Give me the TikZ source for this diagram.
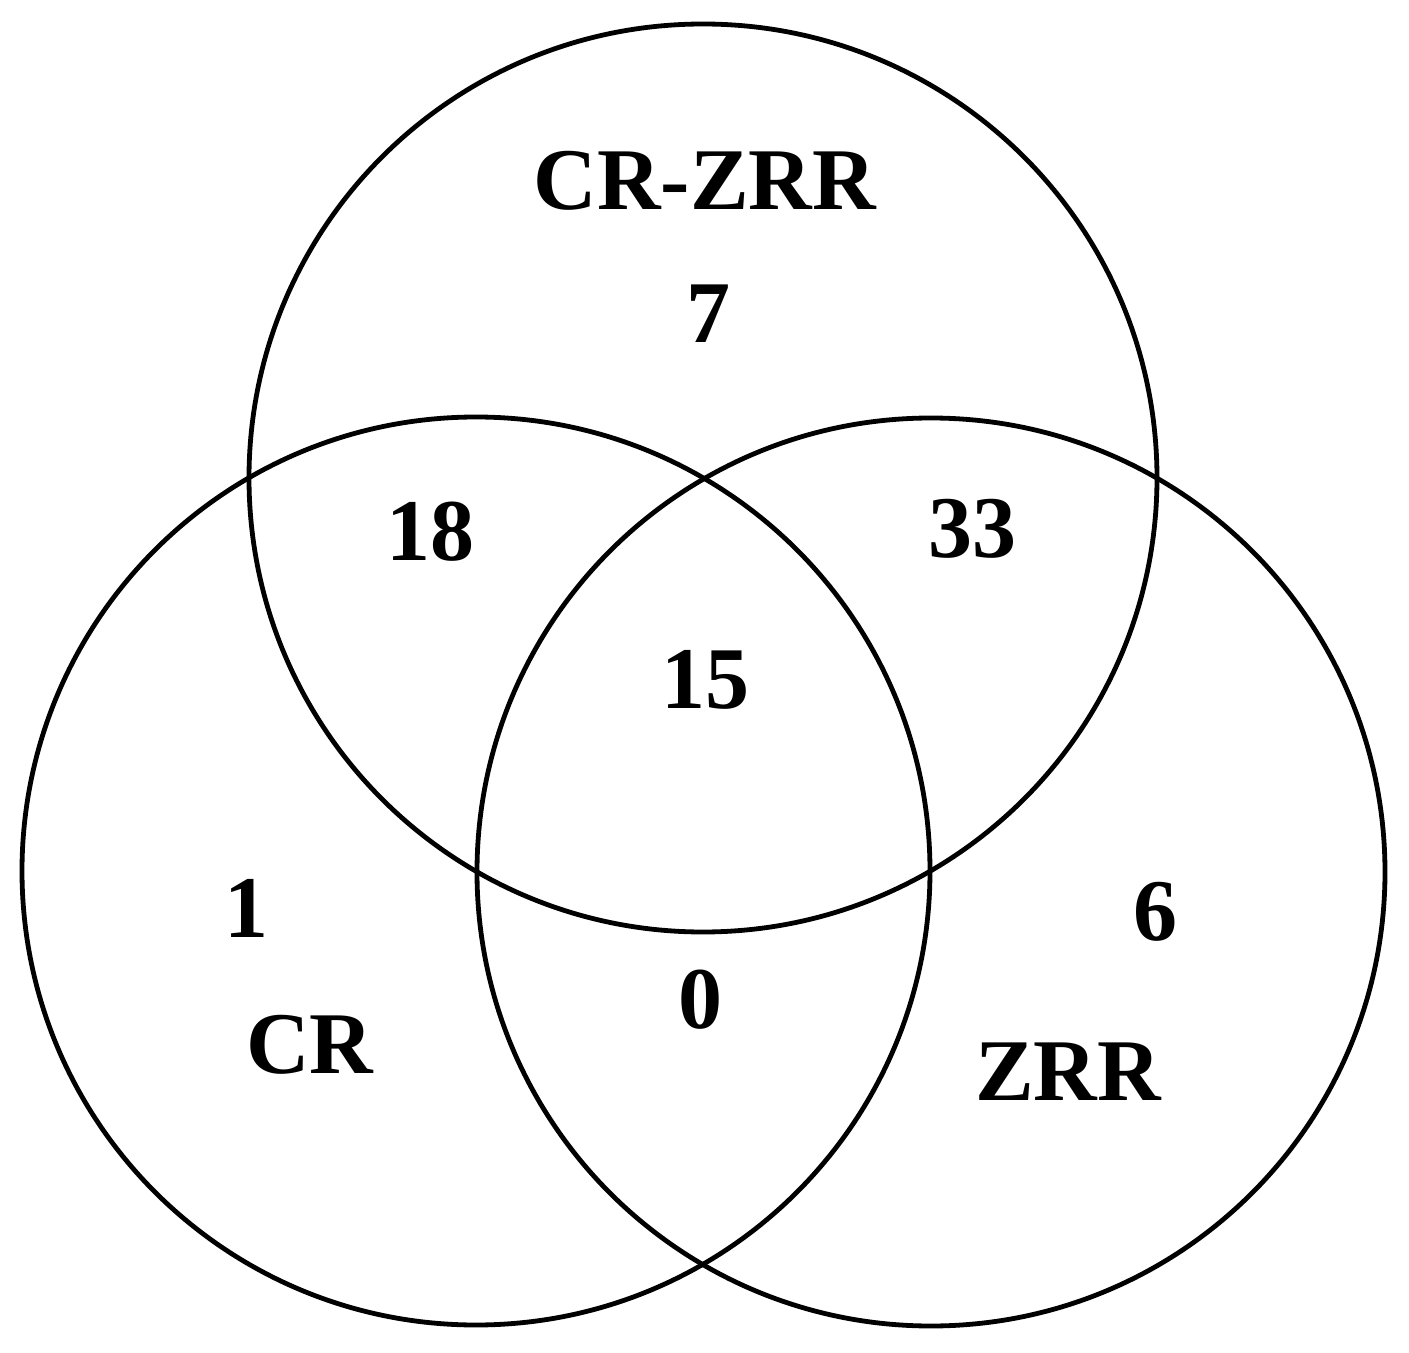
\documentclass[tikz,border=0pt]{standalone}
\usepackage{fontspec}
\setmainfont{Liberation Serif}
\begin{document}
\begin{tikzpicture}[x=0.5pt,y=-0.5pt,
  setcircle/.style={circle,draw=black,line width=2.4pt,minimum size=454pt,inner sep=0pt,outer sep=0pt},
  lbl/.style={anchor=base,inner sep=0pt,font=\fontsize{44}{50}\selectfont\bfseries}]
\useasboundingbox[fill=white] (0,0) rectangle (1409,1353);
\node[setcircle] (top) at (703,478) {};
\node[setcircle] (left) at (476,871) {};
\node[setcircle] (right) at (931,872) {};
\node[lbl] (ttitle) at (705,210) {CR-ZRR};
\node[lbl] (tonly) at (708,343) {7};
\node[lbl] (tl) at (430,560) {18};
\node[lbl] (tr) at (972,558) {33};
\node[lbl] (all) at (705,708) {15};
\node[lbl] (lonly) at (246,937) {1};
\node[lbl] (ltitle) at (310,1073) {CR};
\node[lbl] (lr) at (700,1028) {0};
\node[lbl] (ronly) at (1155,940) {6};
\node[lbl] (rtitle) at (1068,1100) {ZRR};
\end{tikzpicture}
\end{document}
